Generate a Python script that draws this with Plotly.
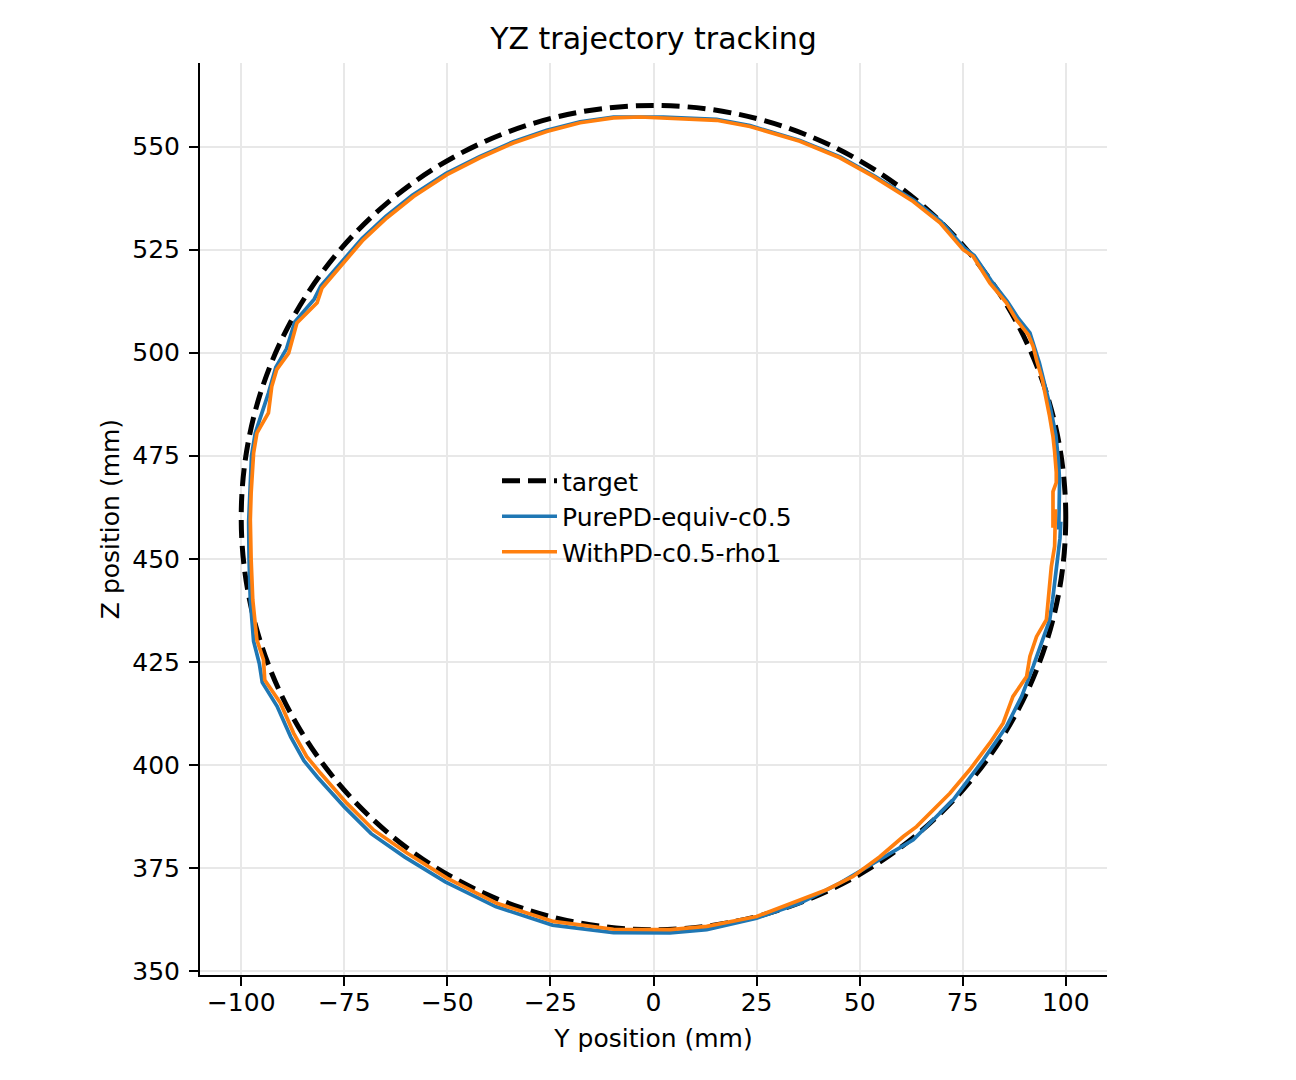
import plotly.graph_objects as go

# ---------------- data ----------------
TARGET_CENTER_Y = 0.0
TARGET_CENTER_Z = 460.0
TARGET_RADIUS = 100.0

PUREPD_Y = [98.3, 98.3, 98.5, 98.2, 97.6, 96.2, 95.0, 93.6, 92.5, 91.3, 88.5, 85.8, 81.9, 77.8,
            75.4, 69.8, 63.2, 53.4, 45.3, 35.5, 23.4, 15.3, 2.4, -9.7, -17.8, -25.9, -34.0,
            -42.2, -50.3, -58.5, -65.0, -70.7, -74.8, -80.7, -82.3, -87.0, -89.0, -91.6, -93.4,
            -95.0, -96.6, -97.5, -98.0, -98.2, -98.1, -97.8, -97.0, -95.6, -94.9, -91.3, -88.0,
            -84.8, -81.5, -75.0, -68.5, -60.3, -50.5, -38.3, -24.5, -9.7, 4.0, 12.9, 25.0, 35.5,
            45.2, 53.3, 63.0, 72.7, 80.0, 85.6, 89.3, 92.1, 93.7, 96.1, 96.8, 97.5, 98.0, 98.6,
            98.8]
PUREPD_Z = [457.1, 466.3, 469.0, 474.0, 480.0, 487.0, 492.0, 497.5, 501.0, 504.8, 508.3, 512.5,
            517.5, 523.6, 525.4, 531.8, 537.0, 543.0, 547.5, 551.5, 555.1, 556.6, 557.2, 557.2,
            556.0, 554.0, 551.2, 547.6, 543.5, 538.2, 533.0, 527.7, 523.0, 516.2, 513.0, 507.5,
            501.0, 496.5, 490.2, 485.0, 480.5, 475.0, 466.0, 459.0, 449.8, 440.0, 430.0, 424.5,
            420.0, 414.2, 406.8, 401.0, 397.0, 389.8, 383.3, 377.6, 371.6, 365.6, 361.1, 359.3,
            359.2, 360.0, 362.8, 366.4, 371.3, 376.1, 381.8, 391.5, 401.2, 409.3, 416.6, 423.9,
            428.7, 435.2, 440.0, 445.0, 450.0, 455.0, 459.0]

WITHPD_Y = [96.9, 96.9, 97.7, 97.7, 97.3, 96.9, 96.0, 94.9, 94.3, 92.9, 92.1, 90.9, 88.0, 85.6,
            81.6, 77.5, 75.1, 69.5, 63.0, 53.3, 45.2, 35.5, 23.4, 15.3, 2.4, -3.3, -9.7, -17.8,
            -25.9, -34.0, -42.1, -50.1, -58.2, -64.7, -70.4, -74.4, -80.4, -81.6, -86.5, -88.5,
            -91.4, -92.6, -93.4, -96.2, -97.0, -97.6, -97.8, -97.6, -97.2, -96.2, -94.6, -94.3,
            -90.5, -87.3, -84.1, -80.8, -74.4, -67.9, -59.8, -50.1, -38.0, -24.3, -9.7, 4.0, 12.9,
            25.0, 35.5, 42.0, 48.4, 54.9, 60.6, 63.8, 71.9, 76.7, 81.6, 84.8, 87.2, 90.5, 91.3,
            92.9, 95.3, 96.1, 96.5, 97.3, 97.3, 97.5]
WITHPD_Z = [457.5, 466.3, 468.5, 471.0, 476.0, 479.7, 485.0, 490.2, 493.5, 498.3, 501.5, 504.4,
            508.0, 512.1, 516.9, 523.4, 525.0, 531.5, 536.7, 542.8, 547.3, 551.3, 554.9, 556.4,
            557.0, 557.2, 557.0, 555.8, 553.7, 550.9, 547.3, 543.2, 537.9, 532.7, 527.4, 522.6,
            515.7, 512.1, 507.2, 499.9, 495.9, 491.8, 485.4, 480.5, 475.7, 466.0, 459.5, 449.8,
            440.0, 430.3, 425.5, 420.6, 415.0, 407.7, 402.0, 398.0, 390.7, 384.2, 378.6, 372.5,
            366.4, 362.0, 360.1, 360.0, 360.8, 363.2, 367.2, 369.7, 372.9, 377.7, 382.6, 385.0,
            393.1, 398.8, 405.3, 410.1, 416.6, 421.4, 426.3, 431.1, 435.2, 444.9, 448.1, 453.0,
            458.0, 462.0]

SERIES_NAMES = ["target", "PurePD-equiv-c0.5", "WithPD-c0.5-rho1"]
X_TICKS = [-100, -75, -50, -25, 0, 25, 50, 75, 100]
Y_TICKS = [350, 375, 400, 425, 450, 475, 500, 525, 550]

# ---------------- styling ----------------
FONT = "DejaVu Sans"
BLUE = "#1f77b4"
ORANGE = "#ff7f0e"
DASH = "18px,8px"


def fmt(v):
    return ("\u2212" + str(abs(v))) if v < 0 else str(v)


fig = go.Figure()

# legend entry for the target circle (circle itself is drawn as a shape below)
fig.add_trace(go.Scatter(x=[None], y=[None], mode="lines", name=SERIES_NAMES[0],
                         line=dict(color="black", width=5, dash=DASH)))
fig.add_trace(go.Scatter(x=PUREPD_Y, y=PUREPD_Z, mode="lines", name=SERIES_NAMES[1],
                         line=dict(color=BLUE, width=3.7)))
fig.add_trace(go.Scatter(x=WITHPD_Y, y=WITHPD_Z, mode="lines", name=SERIES_NAMES[2],
                         line=dict(color=ORANGE, width=3.7)))

fig.add_shape(type="circle", xref="x", yref="y",
              x0=TARGET_CENTER_Y - TARGET_RADIUS, x1=TARGET_CENTER_Y + TARGET_RADIUS,
              y0=TARGET_CENTER_Z - TARGET_RADIUS, y1=TARGET_CENTER_Z + TARGET_RADIUS,
              line=dict(color="black", width=5, dash=DASH), layer="between")

fig.update_layout(
    width=1296, height=1080,
    margin=dict(l=200, r=189, t=63, b=105),
    paper_bgcolor="white", plot_bgcolor="white",
    font=dict(family=FONT, size=25, color="black"),
    title=dict(text="YZ trajectory tracking", x=0.5, xref="paper", xanchor="center",
               y=1 - 38 / 1080, yref="container", yanchor="middle",
               font=dict(family=FONT, size=30, color="black")),
    showlegend=True,
    legend=dict(x=(497 - 200) / 907, y=(975 - 458) / 912, xanchor="left", yanchor="top",
                bgcolor="rgba(0,0,0,0)", borderwidth=0, itemwidth=55,
                font=dict(family=FONT, size=25, color="black")),
    xaxis=dict(range=[-110, 110], tickmode="array", tickvals=X_TICKS,
               ticktext=[fmt(v) for v in X_TICKS],
               showline=True, linecolor="black", linewidth=2, mirror=False,
               ticks="outside", ticklen=9, tickwidth=2, tickcolor="black",
               ticklabelstandoff=-5,
               showgrid=True, gridcolor="#e8e8e8", gridwidth=2, zeroline=False,
               title=dict(text="Y position (mm)", standoff=13,
                          font=dict(family=FONT, size=25)),
               tickfont=dict(family=FONT, size=25)),
    yaxis=dict(range=[349.0, 570.3], tickmode="array", tickvals=Y_TICKS,
               ticktext=[fmt(v) for v in Y_TICKS],
               showline=True, linecolor="black", linewidth=2, mirror=False,
               ticks="outside", ticklen=9, tickwidth=2, tickcolor="black",
               ticklabelstandoff=4,
               showgrid=True, gridcolor="#e8e8e8", gridwidth=2, zeroline=False,
               title=dict(text="Z position (mm)", standoff=6,
                          font=dict(family=FONT, size=25)),
               tickfont=dict(family=FONT, size=25)),
)

fig.write_html("out.html")
